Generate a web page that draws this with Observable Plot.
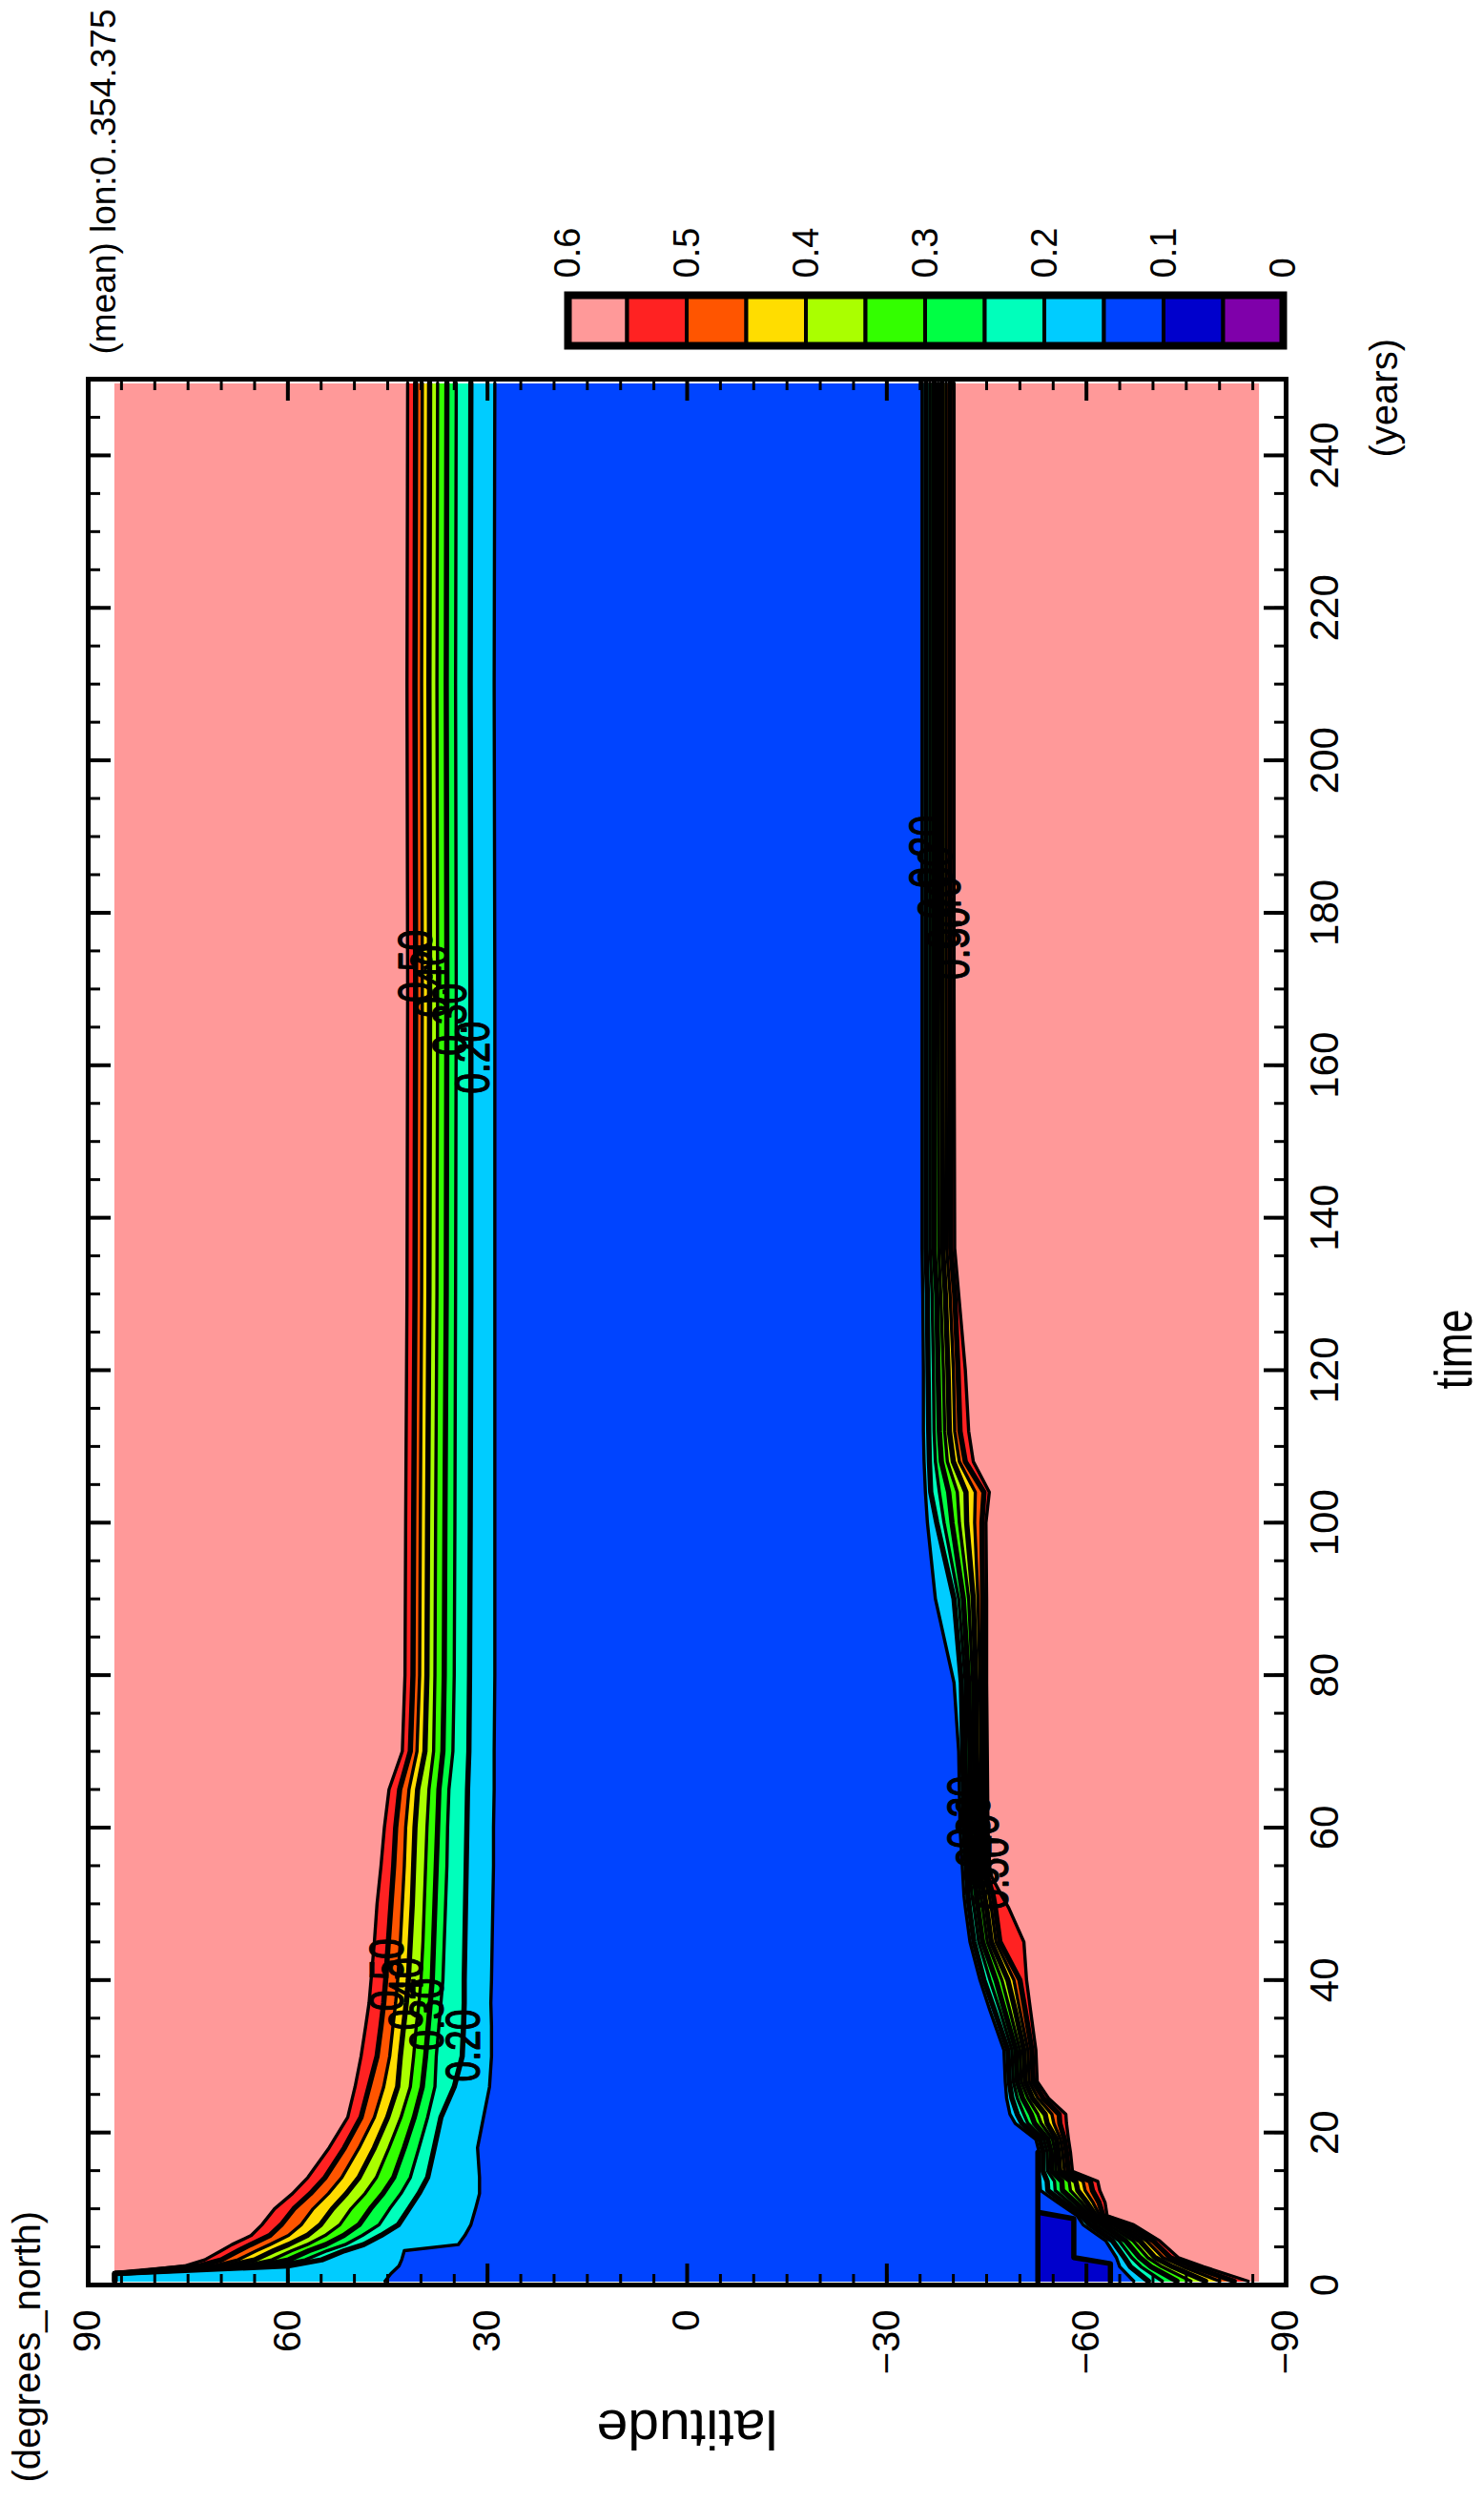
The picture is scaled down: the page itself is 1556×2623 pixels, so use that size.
<!DOCTYPE html>
<html><head><meta charset="utf-8">
<script src="https://cdn.jsdelivr.net/npm/d3@7"></script>
<script src="https://cdn.jsdelivr.net/npm/@observablehq/plot@0.6"></script>
<style>
html,body{margin:0;padding:0;background:#fff;overflow:hidden;width:1556px;height:2623px;}
#wrap{position:absolute;left:0;top:0;width:2623px;height:1556px;transform-origin:0 0;transform:translate(0px,2623px) rotate(-90deg);background:#fff;}
#main{position:absolute;left:0;top:0;}
#cbar{position:absolute;left:2240px;top:560px;}
svg{font-family:"Liberation Sans",Arial,sans-serif;}
</style></head><body>
<div id="wrap"><div id="main"></div><div id="cbar"></div></div>
<script>
// ---------- data ----------
const timeTicks = [0,20,40,60,80,100,120,140,160,180,200,220,240];
const latTicks = [-90,-60,-30,0,30,60,90];
const timeExtent = [0.5, 249.5];
const latExtent = [-86, 86];

const levels = [0.55,0.5,0.45,0.4,0.35,0.3,0.25,0.2,0.15];
const bandColors = ["#ff2222","#ff5500","#ffdd00","#aaff00","#33ff00","#00ff44","#00ffbb","#00ccff","#0044ff"];
const pinkColor = "#ff9999";
const darkBlue = "#0000cc";

// Northern hemisphere contour latitudes
const timeN = [0.5,1.5,2.5,3.3,4.5,5.3,6.5,7.9,10,12,14.1,18,22,26,30,34,37,40,45,50,55,60,65,70,80,100,130,170,210,249.5];
const N055 = [86,86,75.5,72.5,70.0,68.4,65.5,63.9,62.0,59.3,57.0,53.8,51.0,49.9,49.0,48.3,47.8,47.5,47.0,46.6,46.0,45.5,44.8,42.8,42.4,42.3,42.1,42.0,42.1,42.0];
const N050 = [86,86,73.3,70.0,67.4,65.6,62.7,61.0,59.1,56.6,54.4,51.5,49.0,47.8,46.6,46.0,45.6,45.3,44.9,44.5,44.1,43.8,43.2,41.6,41.2,41.1,40.9,40.8,40.9,40.8];
const N045 = [86,86,71.1,67.5,64.7,62.7,59.9,58.0,56.2,53.9,51.9,49.3,47.0,45.6,44.7,44.2,43.8,43.5,43.1,42.8,42.5,42.3,41.8,40.6,40.2,40.1,39.9,39.8,39.9,39.8];
const N040 = [86,86,68.9,65.0,62.1,59.9,57.1,55.1,53.3,51.2,49.3,47.0,45.0,43.5,43.1,42.6,42.2,41.9,41.6,41.3,41.1,40.9,40.5,39.4,39.1,39.0,38.8,38.7,38.8,38.7];
const N035 = [86,86,66.6,62.4,59.4,57.1,54.4,52.2,50.5,48.4,46.7,44.8,43.0,41.6,41.1,40.7,40.3,40.0,39.7,39.5,39.3,39.1,38.8,38.1,37.9,37.8,37.6,37.5,37.6,37.5];
const N030 = [86,86,64.4,59.9,56.8,54.3,51.6,49.3,47.6,45.7,44.1,42.5,41.0,39.8,39.3,38.9,38.6,38.3,38.1,37.9,37.7,37.5,37.3,36.7,36.5,36.4,36.2,36.1,36.2,36.1];
const N025 = [86,86,62.2,57.4,54.1,51.4,48.8,46.3,44.7,43.0,41.6,40.3,39.0,37.9,37.7,37.3,37.0,36.7,36.5,36.3,36.1,36.0,35.8,35.2,35.0,34.9,34.8,34.7,34.8,34.7];
const N020 = [86,86,60.0,54.9,51.5,48.6,46.0,43.4,41.8,40.3,39.0,38.0,37.0,35.0,33.8,33.6,33.5,33.5,33.4,33.3,33.2,33.1,33.0,32.8,32.7,32.6,32.5,32.5,32.6,32.5];
const N015 = [45.4,44.5,43.3,42.9,42.5,34.4,33.4,32.5,31.8,31.2,31.2,31.5,30.6,29.7,29.4,29.4,29.5,29.4,29.3,29.2,29.1,29.1,29.0,29.0,28.9,28.9,28.9,28.9,29.0,28.9];

// Southern hemisphere contour latitudes
const timeS = [0.5,2.4,3.6,5.8,7.9,9.1,10.8,12.4,13.6,14.9,17.4,19.1,21.2,22.4,24.5,26.7,30.8,36,40,45,49.5,51,54,60,70,79,90,100,104,108,112,120,130,136,170,210,249.5];
const S015 = [-67.1,-65.0,-64.5,-62.9,-59.5,-58.6,-55.7,-53.1,-53.0,-52.9,-52.9,-52.4,-49.3,-48.5,-48.0,-47.8,-47.6,-45.5,-44.0,-42.5,-41.8,-41.6,-41.4,-41.0,-40.8,-40.1,-37.3,-36.1,-35.8,-35.6,-35.5,-35.5,-35.4,-35.3,-35.3,-35.3,-35.3];
const S020 = [-69.3,-66.6,-65.7,-63.9,-60.5,-59.2,-56.6,-54.2,-54.1,-53.5,-53.5,-53.0,-50.3,-49.6,-48.8,-48.4,-48.2,-46.2,-44.6,-43.1,-42.4,-42.2,-42.0,-41.6,-41.4,-41.2,-40.1,-37.5,-36.6,-36.4,-36.3,-36.2,-36.1,-35.9,-35.9,-35.9,-35.9];
const S025 = [-71.4,-68.2,-66.8,-64.9,-61.4,-59.7,-57.5,-55.3,-55.2,-54.2,-54.1,-53.6,-51.2,-50.6,-49.6,-49.0,-48.8,-47.0,-45.5,-43.8,-43.1,-42.8,-42.5,-42.1,-41.9,-41.8,-40.8,-38.6,-37.9,-37.3,-37.1,-37.0,-36.8,-36.5,-36.5,-36.5,-36.5];
const S030 = [-73.6,-69.7,-68.0,-65.9,-62.4,-60.3,-58.4,-56.4,-56.3,-54.8,-54.7,-54.2,-52.2,-51.7,-50.4,-49.6,-49.4,-47.7,-46.4,-44.4,-43.7,-43.5,-43.0,-42.6,-42.5,-42.3,-41.5,-39.8,-39.3,-38.2,-37.9,-37.7,-37.5,-37.1,-37.1,-37.1,-37.1];
const S035 = [-75.7,-71.3,-69.2,-67.0,-63.3,-60.9,-59.3,-57.6,-57.4,-55.4,-55.3,-54.9,-53.2,-52.7,-51.2,-50.2,-50.0,-48.5,-47.3,-45.1,-44.4,-44.1,-43.5,-43.2,-43.0,-42.9,-42.3,-40.9,-40.6,-39.1,-38.7,-38.5,-38.1,-37.8,-37.7,-37.7,-37.7];
const S040 = [-77.9,-72.9,-70.3,-68.0,-64.3,-61.4,-60.1,-58.7,-58.4,-56.0,-55.8,-55.5,-54.1,-53.8,-51.9,-50.8,-50.6,-49.3,-48.2,-45.7,-45.0,-44.7,-44.0,-43.7,-43.5,-43.4,-43.0,-42.0,-41.9,-40.0,-39.4,-39.2,-38.8,-38.4,-38.3,-38.3,-38.3];
const S045 = [-80.0,-74.5,-71.5,-69.0,-65.2,-62.0,-61.0,-59.8,-59.5,-56.7,-56.4,-56.1,-55.1,-54.8,-52.7,-51.4,-51.2,-50.0,-49.1,-46.4,-45.7,-45.4,-44.5,-44.2,-44.1,-44.0,-43.7,-43.2,-43.3,-40.9,-40.2,-40.0,-39.5,-39.0,-38.9,-38.9,-38.9];
const S050 = [-82.2,-76.0,-72.6,-70.0,-66.2,-62.5,-61.9,-60.9,-60.6,-57.3,-57.0,-56.7,-56.0,-55.9,-53.5,-52.0,-51.8,-50.8,-50.0,-47.0,-46.3,-46.0,-45.0,-44.7,-44.6,-44.5,-44.4,-44.3,-44.6,-41.8,-41.0,-40.7,-40.2,-39.6,-39.5,-39.5,-39.5];
const S055 = [-84.3,-77.6,-73.8,-71.0,-67.1,-63.1,-62.8,-62.0,-61.7,-57.9,-57.6,-57.3,-57.0,-56.9,-54.3,-52.6,-52.4,-51.6,-51.0,-50.6,-48.3,-47.3,-45.5,-45.2,-45.1,-45.0,-45.0,-44.9,-45.4,-43.0,-42.3,-41.8,-40.8,-40.2,-40.1,-40.1,-40.1];

// region below 0.1 (dark blue) near 55S–64S in the first years
const timeD = [0.5,2.8,3.6,8.7,9.5];
const D_lo = [-63.6,-63.6,-58.1,-58.1,-52.9];
const D_hi = [-52.9,-52.9,-52.9,-52.9,-52.9];
const timeD2 = [0.5,17.4];
const D2 = [-52.7,-52.7];

// contour labels
const labelText = ["0.50","0.40","0.30","0.20","0.50","0.40","0.30","0.20","0.20","0.30","0.40","0.50","0.20","0.30","0.40","0.50"];
const labelTime = [40.7,38.2,35.5,31.4,173,171,166,161,62,59.5,57,54,188,184,180,176];
const labelLat  = [45.0,42.0,38.9,33.4,40.7,38.2,35.5,32.1,-41.9,-43.2,-44.5,-46.0,-36.2,-37.5,-38.8,-40.0];

// colour bar
const cbEdges = [0.6,0.55,0.5,0.45,0.4,0.35,0.3,0.25,0.2,0.15,0.1,0.05,0];
const cbColors = ["#ff9999","#ff2222","#ff5500","#ffdd00","#aaff00","#33ff00","#00ff44","#00ffbb","#00ccff","#0044ff","#0000cc","#7f00aa"];
const cbLabels = [0.6,0.5,0.4,0.3,0.2,0.1,0];

// ---------- build ----------
const northSeries = [N055,N050,N045,N040,N035,N030,N025,N020,N015];
const southSeries = [S055,S050,S045,S040,S035,S030,S025,S020,S015];
const isThick = c => Math.abs(c*10 - Math.round(c*10)) < 1e-6;

const marks = [];
marks.push(Plot.rect([{t0: timeExtent[0], t1: timeExtent[1], l0: latExtent[0], l1: latExtent[1]}],
  {x1: "t0", x2: "t1", y1: "l0", y2: "l1", fill: pinkColor}));

levels.forEach((c, k) => {
  const rs = timeS.map((t, i) => ({t, lat: southSeries[k][i]}));
  const rn = timeN.map((t, i) => ({t, lat: northSeries[k][i]}));
  marks.push(Plot.areaY(rs, {x: "t", y1: "lat", y2: 10, fill: bandColors[k]}));
  marks.push(Plot.areaY(rn, {x: "t", y1: -10, y2: "lat", fill: bandColors[k]}));
});
const rowsD = timeD.map((t, i) => ({t, lo: D_lo[i], hi: D_hi[i]}));
marks.push(Plot.areaY(rowsD, {x: "t", y1: "lo", y2: "hi", fill: darkBlue}));

levels.forEach((c, k) => {
  const sw = isThick(c) ? 5.5 : 3.4;
  const rs = timeS.map((t, i) => ({t, lat: southSeries[k][i]}));
  const rn = timeN.map((t, i) => ({t, lat: northSeries[k][i]}));
  marks.push(Plot.line(rs, {x: "t", y: "lat", stroke: "black", strokeWidth: sw, strokeLinejoin: "round"}));
  marks.push(Plot.line(rn, {x: "t", y: "lat", stroke: "black", strokeWidth: sw, strokeLinejoin: "round"}));
});
marks.push(Plot.line(rowsD, {x: "t", y: "lo", stroke: "black", strokeWidth: 5.5}));
marks.push(Plot.line(timeD2.map((t, i) => ({t, lat: D2[i]})), {x: "t", y: "lat", stroke: "black", strokeWidth: 5.5}));

const labels = labelText.map((s, i) => ({s, t: labelTime[i], lat: labelLat[i]}));
marks.push(Plot.text(labels, {x: "t", y: "lat", text: "s", fontSize: 50, fill: "black", stroke: "black", strokeWidth: 1.2}));

// axes (ticks point inward)
const minorT = d3.range(0, 251, 5), minorL = d3.range(-90, 91, 5);
marks.push(Plot.axisX(minorT, {anchor: "bottom", tickSize: 12, dy: -12, strokeWidth: 3, fill: "none", label: null}));
marks.push(Plot.axisX(minorT, {anchor: "top", tickSize: 12, dy: 12, strokeWidth: 3, fill: "none", label: null}));
marks.push(Plot.axisX(timeTicks, {anchor: "bottom", tickSize: 23, dy: -23, strokeWidth: 4, fill: "none", label: null}));
marks.push(Plot.axisX(timeTicks, {anchor: "top", tickSize: 23, dy: 23, strokeWidth: 4, fill: "none", label: null}));
marks.push(Plot.axisX(timeTicks, {anchor: "bottom", tickSize: 0, tickPadding: 25, fontSize: 42, label: null}));
marks.push(Plot.axisY(minorL, {anchor: "left", tickSize: 12, dx: 12, strokeWidth: 3, fill: "none", label: null}));
marks.push(Plot.axisY(minorL, {anchor: "right", tickSize: 12, dx: -12, strokeWidth: 3, fill: "none", label: null}));
marks.push(Plot.axisY(latTicks, {anchor: "left", tickSize: 23, dx: 23, strokeWidth: 4, fill: "none", label: null}));
marks.push(Plot.axisY(latTicks, {anchor: "right", tickSize: 23, dx: -23, strokeWidth: 4, fill: "none", label: null}));
marks.push(Plot.axisY(latTicks, {anchor: "left", tickSize: 0, tickPadding: 26, fontSize: 40, label: null}));
marks.push(Plot.frame({stroke: "black", strokeWidth: 5}));

// annotation texts
marks.push(Plot.text(["(degrees_north)"], {text: d => d, frameAnchor: "top-left", dx: -207, dy: -51, textAnchor: "start", lineAnchor: "bottom", fontSize: 40}));
marks.push(Plot.text(["(mean) lon:0..354.375"], {text: d => d, frameAnchor: "top-right", dx: 26, dy: 28, textAnchor: "start", lineAnchor: "bottom", fontSize: 37}));
marks.push(Plot.text(["(years)"], {text: d => d, frameAnchor: "bottom-right", dx: -82, dy: 116, textAnchor: "start", lineAnchor: "bottom", fontSize: 40}));
marks.push(Plot.text(["time"], {text: d => d, frameAnchor: "bottom", dx: -18, dy: 194, textAnchor: "middle", lineAnchor: "bottom", fontSize: 55}));
marks.push(Plot.text(["latitude"], {text: d => d, frameAnchor: "left", dx: -131, rotate: -90, textAnchor: "middle", lineAnchor: "bottom", fontSize: 58}));

const main = Plot.plot({
  width: 2623, height: 1556,
  marginLeft: 227, marginRight: 398, marginTop: 92, marginBottom: 208,
  x: {domain: [0, 250]},
  y: {domain: [-90, 90]},
  style: {background: "white", color: "black", fontFamily: "'Liberation Sans',Arial,sans-serif"},
  marks
});
// condensed lettering as in the reference
const squeeze = {"time": 84, "latitude": 190, "0.20": 76, "0.30": 76, "0.40": 76, "0.50": 76};
d3.select(main).selectAll("text").each(function () {
  const s = this.textContent;
  if (squeeze[s] !== undefined && this.childElementCount === 0) {
    d3.select(this).attr("textLength", squeeze[s]).attr("lengthAdjust", "spacingAndGlyphs");
  }
});
document.getElementById("main").appendChild(main);

// colour bar (vertical in the landscape frame)
const cbCells = cbColors.map((c, i) => ({hi: cbEdges[i], lo: cbEdges[i + 1], c}));
const cbar = Plot.plot({
  width: 200, height: 820,
  marginLeft: 20, marginRight: 127, marginTop: 35, marginBottom: 35,
  x: {domain: [0, 1], axis: null},
  y: {domain: [0, 0.6], axis: null},
  style: {background: "transparent", color: "black", fontFamily: "'Liberation Sans',Arial,sans-serif"},
  marks: [
    Plot.rect(cbCells, {x1: 0, x2: 1, y1: "lo", y2: "hi", fill: "c", stroke: "black", strokeWidth: 4}),
    Plot.frame({stroke: "black", strokeWidth: 8}),
    Plot.text(cbLabels, {x: 1, y: d => d, text: d => String(d), dx: 18, textAnchor: "start", fontSize: 38})
  ]
});
document.getElementById("cbar").appendChild(cbar);
</script>
</body></html>
